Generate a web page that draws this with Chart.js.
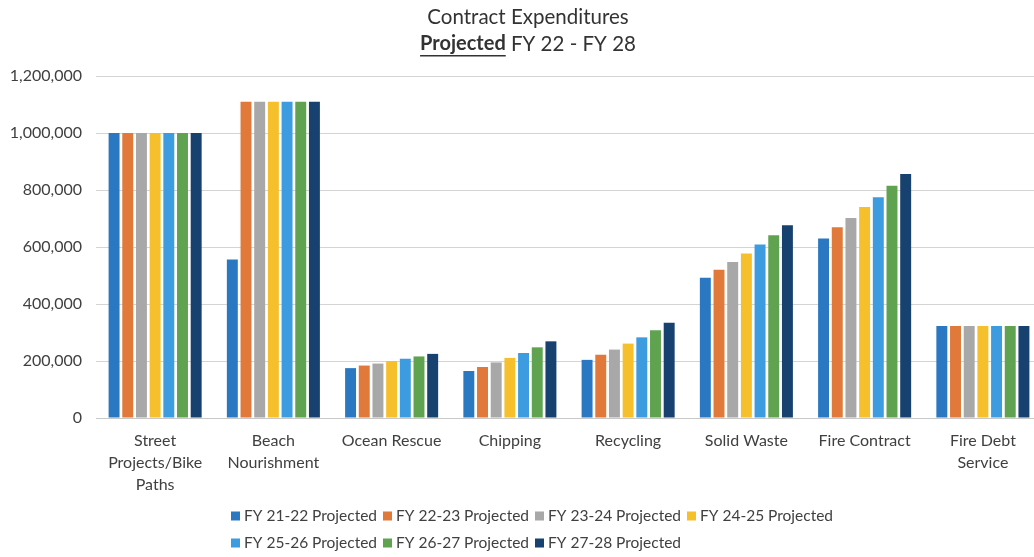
<!DOCTYPE html>
<html>
<head>
<meta charset="utf-8">
<script src="https://cdn.jsdelivr.net/npm/chart.js@4"></script>
<style>
  html, body { margin: 0; padding: 0; background: #fff; overflow: hidden; }
  #wrap { width: 1042px; height: 557px; position: relative; }
</style>
</head>
<body>
<div id="wrap"><canvas id="expChart"></canvas></div>
<script>
// Categories and series values
const categories = [
    ['Street', 'Projects/Bike', 'Paths'],
    ['Beach', 'Nourishment'],
    'Ocean Rescue',
    'Chipping',
    'Recycling',
    'Solid Waste',
    'Fire Contract',
    ['Fire Debt', 'Service']
];
const seriesNames = [
    'FY 21-22 Projected', 'FY 22-23 Projected', 'FY 23-24 Projected', 'FY 24-25 Projected',
    'FY 25-26 Projected', 'FY 26-27 Projected', 'FY 27-28 Projected'
];
const fy2122 = [1000000, 556000, 175000, 165000, 204000, 492000, 630000, 323000];
const fy2223 = [1000000, 1110000, 184000, 179000, 222000, 520000, 669000, 323000];
const fy2324 = [1000000, 1110000, 191000, 195000, 240000, 547000, 702000, 323000];
const fy2425 = [1000000, 1110000, 200000, 211000, 261000, 577000, 740000, 323000];
const fy2526 = [1000000, 1110000, 208000, 228000, 283000, 609000, 775000, 323000];
const fy2627 = [1000000, 1110000, 216000, 248000, 308000, 641000, 815000, 323000];
const fy2728 = [1000000, 1110000, 225000, 269000, 334000, 676000, 856000, 323000];
const yTicks = [0, 200000, 400000, 600000, 800000, 1000000, 1200000];

const seriesValues = [fy2122, fy2223, fy2324, fy2425, fy2526, fy2627, fy2728];
const seriesColors = ['#2a78c2', '#e0793a', '#a8a8a8', '#f5c02c', '#3d9ce0', '#5fa350', '#17416e'];

const FONT = 'Lato, "Open Sans", sans-serif';

// Two-line title, second line partly bold + underlined
const titlePlugin = {
    id: 'twoLineTitle',
    afterDraw(chart) {
        const ctx = chart.ctx;
        const cx = 528;
        ctx.save();
        ctx.fillStyle = '#333';
        ctx.textBaseline = 'middle';
        ctx.font = '20.5px ' + FONT;
        ctx.textAlign = 'center';
        ctx.fillText('Contract Expenditures', cx, 17);

        const boldPart = 'Projected';
        const restPart = ' FY 22 - FY 28';
        ctx.font = 'bold 20px ' + FONT;
        const wBold = ctx.measureText(boldPart).width;
        ctx.font = '20.5px ' + FONT;
        const wRest = ctx.measureText(restPart).width;
        let x = cx - (wBold + wRest) / 2;
        ctx.textAlign = 'left';
        ctx.font = 'bold 20px ' + FONT;
        ctx.fillText(boldPart, x, 44);
        ctx.fillRect(x, 55, wBold, 1.5);
        ctx.font = '20.5px ' + FONT;
        ctx.fillText(restPart, x + wBold, 44);
        ctx.restore();
    }
};

// Legend laid out on a fixed grid, four items per row
const gridLegend = {
    id: 'gridLegend',
    afterDraw(chart) {
        const ctx = chart.ctx;
        const startX = 231, colW = 152, rowY = [516, 543];
        ctx.save();
        ctx.font = '15.5px ' + FONT;
        ctx.textBaseline = 'middle';
        ctx.textAlign = 'left';
        chart.data.datasets.forEach(function (ds, i) {
            const x = startX + (i % 4) * colW;
            const y = rowY[Math.floor(i / 4)];
            ctx.fillStyle = ds.backgroundColor;
            ctx.fillRect(x, y - 4.5, 9, 9);
            ctx.fillStyle = '#404040';
            ctx.fillText(ds.label, x + 13, y);
        });
        ctx.restore();
    }
};

const datasets = seriesNames.map(function (name, i) {
    return {
        label: name,
        data: seriesValues[i],
        backgroundColor: seriesColors[i],
        borderWidth: 0,
        categoryPercentage: 0.81,
        barPercentage: 0.8
    };
});

new Chart(document.getElementById('expChart').getContext('2d'), {
    type: 'bar',
    data: { labels: categories, datasets: datasets },
    options: {
        responsive: true,
        maintainAspectRatio: false,
        animation: false,
        layout: { padding: { top: 76, bottom: 60, left: 0, right: 0 } },
        plugins: {
            legend: { display: false },
            title: { display: false },
            tooltip: { enabled: false }
        },
        scales: {
            x: {
                grid: { display: false, drawTicks: false },
                border: { color: '#c8c8c8', width: 1 },
                ticks: {
                    color: '#404040',
                    padding: 12,
                    maxRotation: 0,
                    autoSkip: false,
                    font: { family: FONT, size: 16, lineHeight: 1.37 }
                },
                afterFit: function (scale) { scale.height = 79; }
            },
            y: {
                min: 0,
                max: 1200000,
                afterBuildTicks: function (scale) {
                    scale.ticks = yTicks.map(function (v) { return { value: v }; });
                },
                grid: { color: '#d4d4d4', drawTicks: false },
                border: { display: false },
                ticks: {
                    color: '#404040',
                    padding: 14,
                    font: { family: FONT, size: 16 },
                    callback: function (value) { return value.toLocaleString('en-US'); }
                },
                afterFit: function (scale) { scale.width = 96; }
            }
        }
    },
    plugins: [titlePlugin, gridLegend]
});
</script>
</body>
</html>
